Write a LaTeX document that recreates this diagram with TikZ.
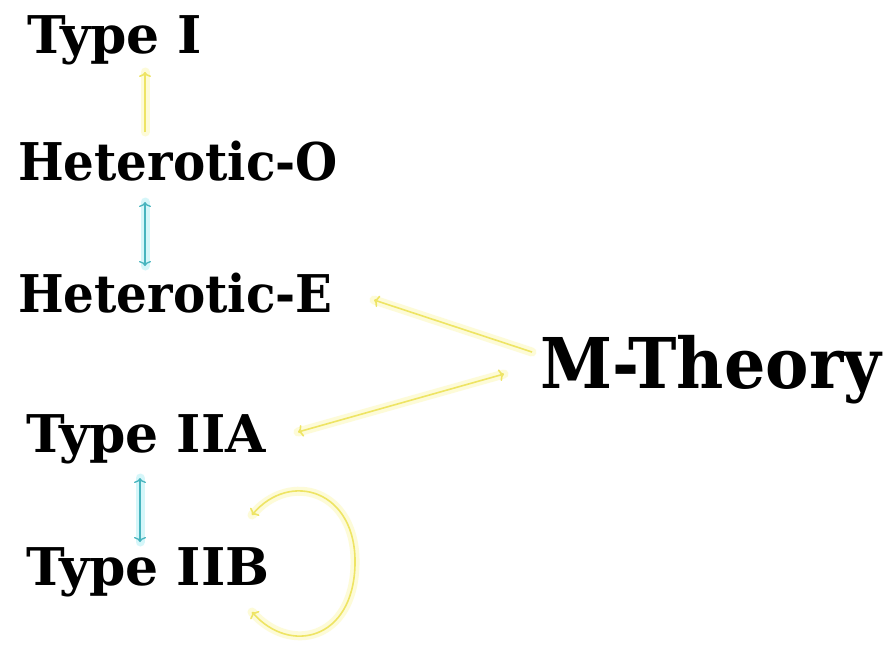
\documentclass[tikz,border=0pt]{standalone}
\usepackage{fontspec}
\setmainfont{DejaVu Serif}
\newfontfamily\lblfont[FakeStretch=0.93]{DejaVu Serif}
\newfontfamily\typefont{DejaVu Serif}
\usetikzlibrary{arrows.meta}
\definecolor{glowY}{RGB}{252,248,185}
\definecolor{lineY}{RGB}{238,228,100}
\definecolor{glowC}{RGB}{180,240,245}
\definecolor{lineC}{RGB}{70,180,190}
\tikzset{
  lbl/.style={anchor=base west, inner sep=0pt, font=\lblfont\bfseries\fontsize{52}{60}\selectfont},
  tlbl/.style={anchor=base west, inner sep=0pt, font=\typefont\bfseries\fontsize{52}{60}\selectfont},
  big/.style={anchor=base west, inner sep=0pt, font=\lblfont\bfseries\fontsize{70}{80}\selectfont},
  yglow/.style={draw=glowY, line width=9pt, opacity=0.55, line cap=round},
  yline/.style={draw=lineY, line width=1.6pt},
  cglow/.style={draw=glowC, line width=9pt, opacity=0.55, line cap=round},
  cline/.style={draw=lineC, line width=1.3pt},
  tip/.style={arrows={-{To[length=5pt,width=12pt]}}},
  tips/.style={arrows={{To[length=5pt,width=12pt]}-{To[length=5pt,width=12pt]}}}
}
\begin{document}
\begin{tikzpicture}[x=1pt,y=-1pt]
\useasboundingbox (0,0) rectangle (893,649);
\fill[white] (0,0) rectangle (893,649);
\node[tlbl] (t1) at (27,53) {Type I};
\node[lbl] (ho) at (18,180) {Heterotic-O};
\node[lbl] (he) at (18,312) {Heterotic-E};
\node[tlbl] (t2a) at (26,452) {Type IIA};
\node[tlbl] (t2b) at (26,585) {Type IIB};
\node[big] (m) at (540,388) {M-Theory};
% named end points
\coordinate (a1) at (145,72);
\coordinate (a2) at (145,132);
\coordinate (b1) at (145,202);
\coordinate (b2) at (145,266);
\coordinate (c1) at (140,478);
\coordinate (c2) at (140,542);
\coordinate (d1) at (374,300);
\coordinate (d2) at (532,352);
\coordinate (e1) at (504,374);
\coordinate (e2) at (298,432);
\coordinate (f1) at (252,515);
\coordinate (f2) at (252,612);
% glows
\draw[yglow] (a1) -- (a2);
\draw[cglow] (b1) -- (b2);
\draw[cglow] (c1) -- (c2);
\draw[yglow] (d1) -- (d2);
\draw[yglow] (e1) -- (e2);
\draw[yglow] (f1) .. controls (290,470) and (357,490) .. (355,565) .. controls (353,640) and (290,655) .. (f2);
% lines
\draw[yline,tip] (a2) -- (a1);
\draw[cline,tips] (b1) -- (b2);
\draw[cline,tips] (c1) -- (c2);
\draw[yline,tip] (d2) -- (d1);
\draw[yline,tips] (e1) -- (e2);
\draw[yline,tips] (f1) .. controls (290,470) and (357,490) .. (355,565) .. controls (353,640) and (290,655) .. (f2);
\end{tikzpicture}
\end{document}
